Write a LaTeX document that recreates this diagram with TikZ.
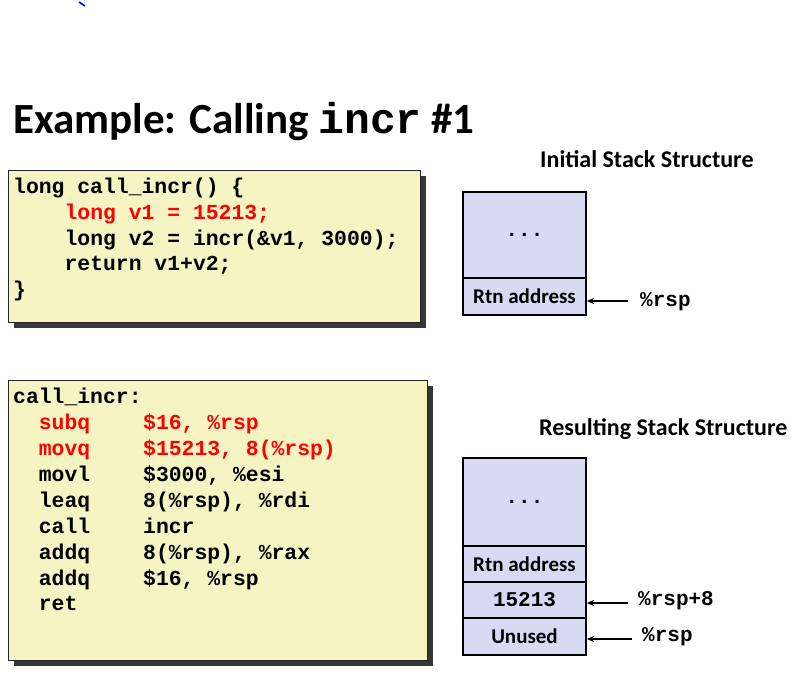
\documentclass[tikz,border=0pt]{standalone}
\usepackage{fontspec}
\setmainfont{Carlito}
\newfontfamily\mono{Liberation Mono}
\usetikzlibrary{arrows.meta}
\definecolor{codeyellow}{HTML}{F6F4C2}
\definecolor{stacklav}{HTML}{DAD9F4}
\definecolor{shadowgray}{HTML}{363636}
\definecolor{codered}{HTML}{FF0000}
\tikzset{
  codebox/.style={draw=black!85, line width=1.2pt, fill=codeyellow, anchor=north west, inner sep=0},
  boxshadow/.style={fill=shadowgray},
  codeline/.style={anchor=base west, inner sep=0, font=\mono\bfseries\fontsize{21.4}{26}\selectfont},
  redline/.style={codeline, text=codered},
  heading/.style={anchor=base west, inner sep=0, font=\bfseries\fontsize{24}{28}\selectfont},
  cell/.style={draw=black, line width=1.8pt, fill=stacklav, minimum width=123pt, inner sep=0, font=\bfseries\fontsize{21}{24}\selectfont},
  ptr/.style={draw=black, line width=1.3pt, -{Stealth[length=7pt,width=6pt]}},
  reglabel/.style={anchor=base west, inner sep=0, font=\mono\bfseries\fontsize{21}{24}\selectfont}
}
\begin{document}
\begin{tikzpicture}[x=1pt,y=-1pt]
\useasboundingbox (0,0) rectangle (792,673);
% stray mark
\draw[blue, line width=1.6pt] (79,2) -- (85,6);
% title
\node[anchor=base west, inner sep=0, font=\bfseries\fontsize{43}{50}\selectfont] (title) at (13,133) {Example: Calling {\mono\bfseries incr} \#1};

% C code box
\fill[boxshadow] (14,176) rectangle (426,328);
\node[codebox, minimum width=412pt, minimum height=152pt] (cbox) at (8,170) {};
\node[codeline] (c1) at (13,193) {long call\_incr() \{};
\node[redline]  (c2) at (64.4,219) {long v1 = 15213;};
\node[codeline] (c3) at (64.4,245) {long v2 = incr(\&v1, 3000);};
\node[codeline] (c4) at (64.4,270) {return v1+v2;};
\node[codeline] (c5) at (13,296) {\}};

% assembly box
\fill[boxshadow] (14,386) rectangle (433,666);
\node[codebox, minimum width=419pt, minimum height=280pt] (abox) at (8,380) {};
\node[codeline] (a0) at (13,403) {call\_incr:};
\node[redline]  (o1) at (38.7,429) {subq};
\node[redline]  (p1) at (143,429) {\$16, \%rsp};
\node[redline]  (o2) at (38.7,455) {movq};
\node[redline]  (p2) at (143,455) {\$15213, 8(\%rsp)};
\node[codeline] (o3) at (38.7,481) {movl};
\node[codeline] (p3) at (143,481) {\$3000, \%esi};
\node[codeline] (o4) at (38.7,507) {leaq};
\node[codeline] (p4) at (143,507) {8(\%rsp), \%rdi};
\node[codeline] (o5) at (38.7,533) {call};
\node[codeline] (p5) at (143,533) {incr};
\node[codeline] (o6) at (38.7,559) {addq};
\node[codeline] (p6) at (143,559) {8(\%rsp), \%rax};
\node[codeline] (o7) at (38.7,585) {addq};
\node[codeline] (p7) at (143,585) {\$16, \%rsp};
\node[codeline] (o8) at (38.7,610) {ret};

% initial stack
\node[heading] (h1) at (540,167) {Initial Stack Structure};
\node[cell, minimum height=86pt] (s1dots) at (524.5,235) {\mono\bfseries ...};
\node[cell, minimum height=37pt] (s1rtn) at (524.5,296.5) {Rtn address};
\coordinate (s1p) at (628,301);
\draw[ptr] (s1p) -- (s1p -| s1rtn.east);
\node[reglabel] (l1) at (640,306) {\%rsp};

% resulting stack
\node[heading] (h2) at (539,435) {Resulting Stack Structure};
\node[cell, minimum height=88pt] (s2dots) at (524.5,502) {\mono\bfseries ...};
\node[cell, minimum height=36pt] (s2rtn) at (524.5,564) {Rtn address};
\node[cell, minimum height=36pt] (s2val) at (524.5,600) {\mono\bfseries 15213};
\node[cell, minimum height=37pt] (s2un) at (524.5,636.5) {Unused};
\coordinate (s2p8) at (628,603);
\draw[ptr] (s2p8) -- (s2p8 -| s2val.east);
\node[reglabel] (l2) at (638,605) {\%rsp+8};
\coordinate (s2p) at (632,639);
\draw[ptr] (s2p) -- (s2p -| s2un.east);
\node[reglabel] (l3) at (642,641) {\%rsp};
\end{tikzpicture}
\end{document}
